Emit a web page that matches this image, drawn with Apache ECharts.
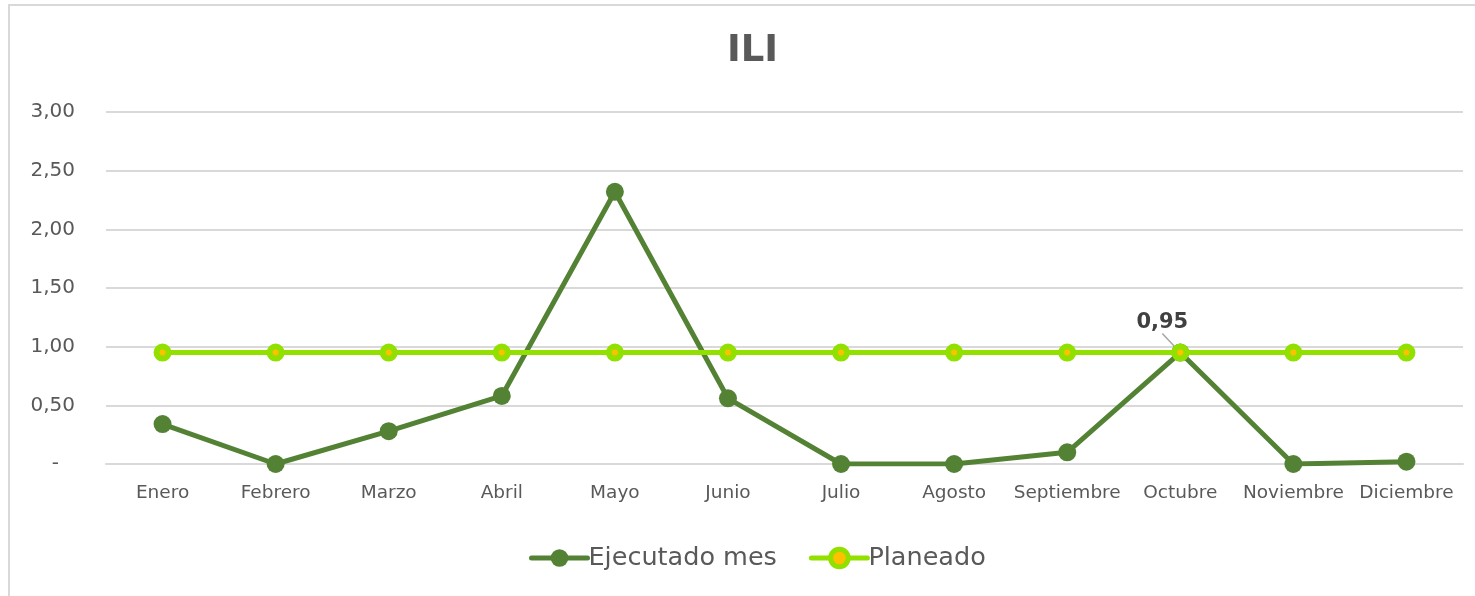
<!DOCTYPE html>
<html>
<head>
<meta charset="utf-8">
<title>ILI</title>
<script src="https://cdn.jsdelivr.net/npm/echarts@6/dist/echarts.min.js"></script>
<style>
  html, body { margin: 0; padding: 0; background: #ffffff; }
  #chart { width: 1475px; height: 596px; }
</style>
</head>
<body>
<div id="chart"></div>
<script>
const months = ['Enero', 'Febrero', 'Marzo', 'Abril', 'Mayo', 'Junio', 'Julio', 'Agosto', 'Septiembre', 'Octubre', 'Noviembre', 'Diciembre']
const ejecutado = [0.34, 0, 0.28, 0.58, 2.32, 0.56, 0, 0, 0.10, 0.95, 0, 0.02]
const planeado = [0.95, 0.95, 0.95, 0.95, 0.95, 0.95, 0.95, 0.95, 0.95, 0.95, 0.95, 0.95]
const labelIndex = 9

const textColor = '#595959'
const darkGreen = '#548235'
const lime = '#92E000'
const orange = '#FFC000'
const font = 'DejaVu Sans'

const chart = echarts.init(document.getElementById('chart'))

function fmt(v) {
  return v.toFixed(2).replace('.', ',')
}

// Excel-style accounting format: zero shows as a dash
function axisFmt(v) {
  if (v === 0) return '{z|-}'
  return fmt(v)
}

chart.setOption({
  animation: false,
  textStyle: { fontFamily: font, color: textColor },
  graphic: [
    {
      type: 'rect',
      shape: { x: 9, y: 5, width: 3000, height: 3000 },
      style: { fill: 'none', stroke: '#d9d9d9', lineWidth: 2 },
      silent: true,
    },
  ],
  title: {
    text: 'ILI',
    left: 722,
    top: 28,
    textStyle: { fontFamily: font, fontSize: 37, fontWeight: 'bold', color: textColor },
  },
  legend: {
    left: 524,
    top: 540,
    itemWidth: 56,
    itemHeight: 22,
    itemGap: 32,
    textStyle: { fontFamily: font, fontSize: 25.5, color: textColor, padding: [0, 0, 0, -4] },
    data: [
      {
        name: 'Ejecutado mes',
        lineStyle: { width: 5, cap: 'round' },
      },
      {
        name: 'Planeado',
        lineStyle: { width: 5, cap: 'round' },
        itemStyle: { borderWidth: 5 },
      },
    ],
  },
  grid: { left: 106, right: 12, top: 112, bottom: 132, containLabel: false },
  xAxis: {
    type: 'category',
    data: months,
    boundaryGap: true,
    axisLine: { show: true, lineStyle: { color: '#d9d9d9', width: 2 } },
    axisTick: { show: false },
    axisLabel: { color: textColor, fontFamily: font, fontSize: 18.5, margin: 20, interval: 0 },
  },
  yAxis: {
    type: 'value',
    min: 0,
    max: 3,
    interval: 0.5,
    axisLine: { show: false },
    axisTick: { show: false },
    splitLine: { lineStyle: { color: '#d9d9d9', width: 2 } },
    axisLabel: {
      color: textColor,
      fontFamily: font,
      fontSize: 20,
      margin: 31,
      formatter: axisFmt,
      rich: { z: { fontFamily: font, fontSize: 20, color: textColor, padding: [0, 16, 0, 0] } },
    },
  },
  series: [
    {
      name: 'Ejecutado mes',
      type: 'line',
      data: ejecutado.map((v, i) => i === labelIndex
        ? { value: v, label: { show: true } }
        : v),
      symbol: 'circle',
      symbolSize: 18,
      lineStyle: { color: darkGreen, width: 5 },
      itemStyle: { color: darkGreen },
      label: {
        show: false,
        formatter: (p) => fmt(p.value),
        fontFamily: font,
        fontSize: 21,
        fontWeight: 'bold',
        color: '#404040',
      },
      labelLayout: { dx: -18, dy: -5 },
      labelLine: { show: true, lineStyle: { color: '#a6a6a6', width: 1.5 } },
      z: 2,
    },
    {
      name: 'Planeado',
      type: 'line',
      data: planeado,
      symbol: 'circle',
      symbolSize: 12,
      lineStyle: { color: lime, width: 5 },
      itemStyle: { color: orange, borderColor: lime, borderWidth: 6 },
      z: 3,
    },
  ],
})

window.addEventListener('resize', () => chart.resize())
</script>
</body>
</html>
